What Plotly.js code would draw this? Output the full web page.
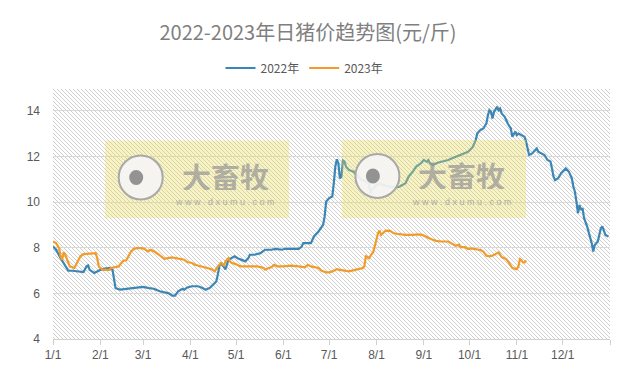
<!DOCTYPE html>
<html>
<head>
<meta charset="utf-8">
<script src="https://cdn.plot.ly/plotly-3.0.1.min.js"></script>
<style>html,body{margin:0;padding:0;background:#fff;}#chart{width:631px;height:371px;}</style>
</head>
<body>
<div id="chart"></div>
<script>
// ---- data (month-day, mapped onto a common year axis) ----
const dates2022 = ["01-01","01-03","01-06","01-08","01-10","01-11","01-14","01-19","01-21","01-23","01-24","01-25","01-28","01-30",
"02-01","02-04","02-07","02-09","02-10","02-11","02-14","02-18","02-22","02-25",
"03-01","03-05","03-08","03-12","03-16","03-18","03-20","03-22","03-24","03-27","03-28","03-30",
"04-02","04-06","04-09","04-11","04-14","04-16","04-18","04-19","04-20","04-21","04-23","04-24","04-26","04-28","04-30",
"05-02","05-04","05-07","05-09","05-10","05-13","05-17","05-20","05-24","05-27","05-31",
"06-02","06-06","06-11","06-13","06-14","06-19","06-21","06-24","06-26","06-27","06-28","06-29",
"07-01","07-03","07-04","07-05","07-06","07-07","07-08","07-09","07-10","07-11","07-12","07-14","07-17","07-19","07-21","07-23","07-25","07-27","07-28","07-29",
"08-01","08-03","08-05","08-09","08-14","08-16","08-20","08-22","08-25","08-27","08-30",
"09-01","09-03","09-04","09-05","09-07","09-10","09-13","09-17","09-22","09-26","09-30",
"10-03","10-05","10-06","10-08","10-10","10-12","10-13","10-14","10-15","10-16","10-17","10-19","10-20","10-21","10-22","10-24","10-26","10-28","10-29","10-31",
"11-01","11-02","11-04","11-06","11-07","11-08","11-09","11-11","11-13","11-14","11-15","11-17","11-19","11-21","11-23","11-24","11-25","11-26","11-28","11-30",
"12-02","12-03","12-05","12-07","12-08","12-09","12-10","12-11","12-12","12-13","12-14","12-15","12-17","12-18","12-20","12-21","12-22","12-24","12-25","12-26","12-27","12-28","12-29","12-31"];
const price2022 = [8.05,7.91,7.54,7.33,7.11,6.99,6.99,6.96,6.93,7.18,7.22,7.03,6.89,6.96,
7.03,7.08,7.11,7.03,6.52,6.23,6.16,6.2,6.24,6.25,
6.28,6.23,6.2,6.09,6.04,6.0,5.9,5.9,6.09,6.2,6.16,6.26,
6.31,6.31,6.23,6.16,6.25,6.38,6.52,6.82,7.18,7.33,7.11,7.05,7.47,7.54,7.62,
7.54,7.47,7.4,7.54,7.69,7.69,7.76,7.91,7.91,7.95,7.91,
7.95,7.94,7.95,8.05,8.2,8.2,8.49,8.71,8.88,9.0,9.36,10.02,
10.17,10.24,10.82,11.55,11.87,11.7,11.04,11.1,11.81,11.77,11.55,11.4,11.33,11.18,11.04,10.96,10.89,10.82,10.38,10.53,
10.75,10.82,10.75,10.67,10.64,10.67,10.82,11.11,11.35,11.55,11.69,
11.84,11.76,11.84,11.69,11.62,11.72,11.76,11.84,11.98,12.1,12.2,
12.4,12.71,13.0,13.15,13.22,13.44,13.8,14.02,13.95,13.66,13.95,14.17,14.02,14.09,13.88,13.73,13.44,13.22,12.86,13.08,
12.93,13.0,12.93,12.86,12.64,12.35,12.06,12.13,12.27,12.35,12.2,12.13,12.06,11.84,11.77,11.47,11.11,10.96,11.04,11.26,
11.4,11.47,11.33,11.04,10.67,10.45,10.02,9.51,9.87,9.65,9.73,9.29,8.93,8.71,8.2,7.83,8.12,8.27,8.56,8.85,8.93,8.78,8.56,8.49];

const dates2023 = ["01-01","01-03","01-05","01-06","01-07","01-08","01-09","01-10","01-12","01-15","01-18","01-19","01-21","01-27","01-29","01-30","01-31",
"02-01","02-03","02-07","02-08","02-13","02-14","02-16","02-18","02-20","02-21","02-23","02-25","02-28",
"03-02","03-04","03-06","03-09","03-11","03-13","03-15","03-20","03-25","03-28","03-30",
"04-02","04-04","04-08","04-12","04-15","04-17","04-19","04-21","04-23","04-24","04-26","04-27","04-28","04-30",
"05-02","05-04","05-09","05-15","05-19","05-20","05-22","05-24","05-26","05-28",
"06-01","06-06","06-11","06-15","06-17","06-19","06-24","06-26","06-29",
"07-01","07-03","07-06","07-08","07-11","07-14","07-18","07-21","07-23","07-24","07-25","07-26","07-27","07-30","07-31",
"08-01","08-02","08-03","08-04","08-05","08-07","08-10","08-12","08-14","08-17","08-20","08-25","08-28","08-31",
"09-03","09-06","09-09","09-12","09-17","09-20","09-22","09-24","09-25","09-28","09-30",
"10-02","10-06","10-08","10-10","10-12","10-14","10-16","10-19","10-20","10-22","10-25","10-27","10-29",
"11-01","11-02","11-03","11-04","11-05","11-06","11-07"];
const price2023 = [8.27,8.2,7.98,7.62,7.47,7.8,7.7,7.55,7.18,7.11,7.47,7.62,7.72,7.76,7.76,7.54,7.18,
7.11,7.03,7.03,7.11,7.18,7.25,7.43,7.45,7.69,7.81,7.95,7.98,7.98,
7.95,7.84,7.91,7.81,7.72,7.62,7.51,7.57,7.51,7.47,7.37,
7.33,7.25,7.18,7.12,7.06,6.96,7.18,7.33,7.22,7.4,7.54,7.4,7.33,7.3,
7.25,7.18,7.18,7.18,7.11,7.04,7.1,7.14,7.25,7.18,
7.18,7.21,7.18,7.14,7.25,7.18,7.11,6.99,6.92,
6.92,6.96,7.06,7.03,7.0,6.96,7.03,7.06,7.11,7.18,7.62,7.58,7.54,7.83,8.13,
8.42,8.64,8.75,8.56,8.62,8.75,8.74,8.64,8.61,8.58,8.56,8.56,8.58,8.56,
8.46,8.37,8.3,8.27,8.27,8.17,8.08,8.13,8.02,8.02,7.94,
7.97,7.91,7.9,7.83,7.65,7.62,7.65,7.76,7.79,7.59,7.5,7.32,7.11,
7.06,7.18,7.5,7.45,7.35,7.35,7.44];

const seriesNames = ["2022年","2023年"];
const tickDates = ["01-01","02-01","03-01","04-01","05-01","06-01","07-01","08-01","09-01","10-01","11-01","12-01"];
const tickLabels = ["1/1","2/1","3/1","4/1","5/1","6/1","7/1","8/1","9/1","10/1","11/1","12/1"];
const yTicks = [4,6,8,10,12,14];

// ---- layout helpers ----
const axisYear = "2022";
const toDate = d => axisYear + "-" + d;
const W = 631, H = 371, ML = 53, MR = 21, MT = 89, MB = 32;
const PW = W - ML - MR, PH = H - MT - MB;
const px = x => (x - ML) / PW;
const py = y => (H - MB - y) / PH;

const hatchSvg = "<svg xmlns='http://www.w3.org/2000/svg' width='" + PW + "' height='" + PH + "'>" +
  "<defs><pattern id='p' width='4' height='4' patternUnits='userSpaceOnUse'>" +
  "<path d='M-1,-1 L5,5 M-1,3 L1,5 M3,-1 L5,1' stroke='#cfcfcf' stroke-width='1'/></pattern></defs>" +
  "<rect width='100%' height='100%' fill='url(#p)'/></svg>";

const traces = [
  {x: dates2022.map(toDate), y: price2022, name: seriesNames[0], type: "scatter", mode: "lines",
   line: {color: "#3b86b5", width: 2.2}},
  {x: dates2023.map(toDate), y: price2023, name: seriesNames[1], type: "scatter", mode: "lines",
   line: {color: "#f19c2a", width: 2.2}}
];

// watermark boxes (pixel positions of the reference)
const marks = [{x0: 105, x1: 289, y0: 140.5, y1: 218, cx: 140.7, cy: 177.5, tx: 225, ty: 175.5, wy: 202},
               {x0: 341.7, x1: 526, y0: 140, y1: 218, cx: 377.4, cy: 176, tx: 461.5, ty: 174.5, wy: 201.5}];
const shapes = [], annotations = [];
marks.forEach(m => {
  shapes.push({type: "rect", xref: "paper", yref: "paper", x0: px(m.x0), x1: px(m.x1), y0: py(m.y1), y1: py(m.y0),
    fillcolor: "rgba(236,220,90,0.35)", line: {width: 0}, layer: "above"});
  shapes.push({type: "circle", xref: "paper", yref: "paper", xsizemode: "pixel", ysizemode: "pixel",
    xanchor: px(m.cx), yanchor: py(m.cy), x0: -22, x1: 22, y0: -22, y1: 22,
    fillcolor: "rgba(245,245,245,0.9)", line: {color: "#a8a8a8", width: 2}, layer: "above"});
  shapes.push({type: "circle", xref: "paper", yref: "paper", xsizemode: "pixel", ysizemode: "pixel",
    xanchor: px(m.cx - 4.5), yanchor: py(m.cy), x0: -7, x1: 7, y0: -7.5, y1: 7.5,
    fillcolor: "#939393", line: {width: 0}, layer: "above"});
  annotations.push({xref: "paper", yref: "paper", x: px(m.tx), y: py(m.ty), text: "<b>大畜牧</b>", showarrow: false,
    xanchor: "center", yanchor: "middle", height: 28, borderpad: 0,
    font: {family: "Noto Sans CJK SC", size: 29, color: "rgba(150,150,150,0.72)"}});
  annotations.push({xref: "paper", yref: "paper", x: px(m.tx), y: py(m.wy), text: "w w w . d x u m u . c o m", showarrow: false,
    xanchor: "center", yanchor: "middle", height: 10, borderpad: 0,
    font: {family: "Liberation Sans", size: 9, color: "rgba(160,160,160,0.85)"}});
});

const layout = {
  width: W, height: H,
  margin: {l: ML, r: MR, t: MT, b: MB},
  paper_bgcolor: "#ffffff",
  plot_bgcolor: "rgba(0,0,0,0)",
  font: {family: "Noto Sans CJK SC, sans-serif", color: "#595959", size: 12},
  title: {text: "2022-2023年日猪价趋势图(元/斤)", font: {family: "Noto Sans CJK SC", size: 20, color: "#7f7f7f"},
          x: 308 / W, xanchor: "center", xref: "container", y: 1 - 33 / H, yanchor: "middle", yref: "container"},
  showlegend: true,
  legend: {orientation: "h", x: px(304.5), xanchor: "center", y: py(68), yanchor: "middle",
           font: {family: "Noto Sans CJK SC", size: 12, color: "#595959"}, itemwidth: 30, bgcolor: "rgba(0,0,0,0)"},
  xaxis: {type: "date", range: [toDate("01-01"), "2023-01-01"],
          tickvals: tickDates.map(toDate).concat(["2023-01-01"]), ticktext: tickLabels.concat([""]),
          showgrid: false, zeroline: false, showline: true, linecolor: "#d0d0d0", linewidth: 1,
          ticks: "outside", ticklen: 5, tickcolor: "#d0d0d0", tickfont: {family: "Liberation Sans", size: 12, color: "#595959"}},
  yaxis: {range: [4, 14.95], tickvals: yTicks, ticktext: yTicks.map(String), showgrid: true, gridcolor: "#d9d9d9",
          gridwidth: 1, zeroline: false, showline: false, ticks: "", ticklabelstandoff: 12,
          tickfont: {family: "Liberation Sans", size: 12, color: "#595959"}},
  images: [{source: "data:image/svg+xml;charset=utf-8," + encodeURIComponent(hatchSvg), xref: "paper", yref: "paper",
            x: 0, y: 1, sizex: 1, sizey: 1, xanchor: "left", yanchor: "top", sizing: "stretch", layer: "below"}],
  shapes: shapes,
  annotations: annotations
};

Plotly.newPlot("chart", traces, layout, {displayModeBar: false, staticPlot: true});
</script>
</body>
</html>
